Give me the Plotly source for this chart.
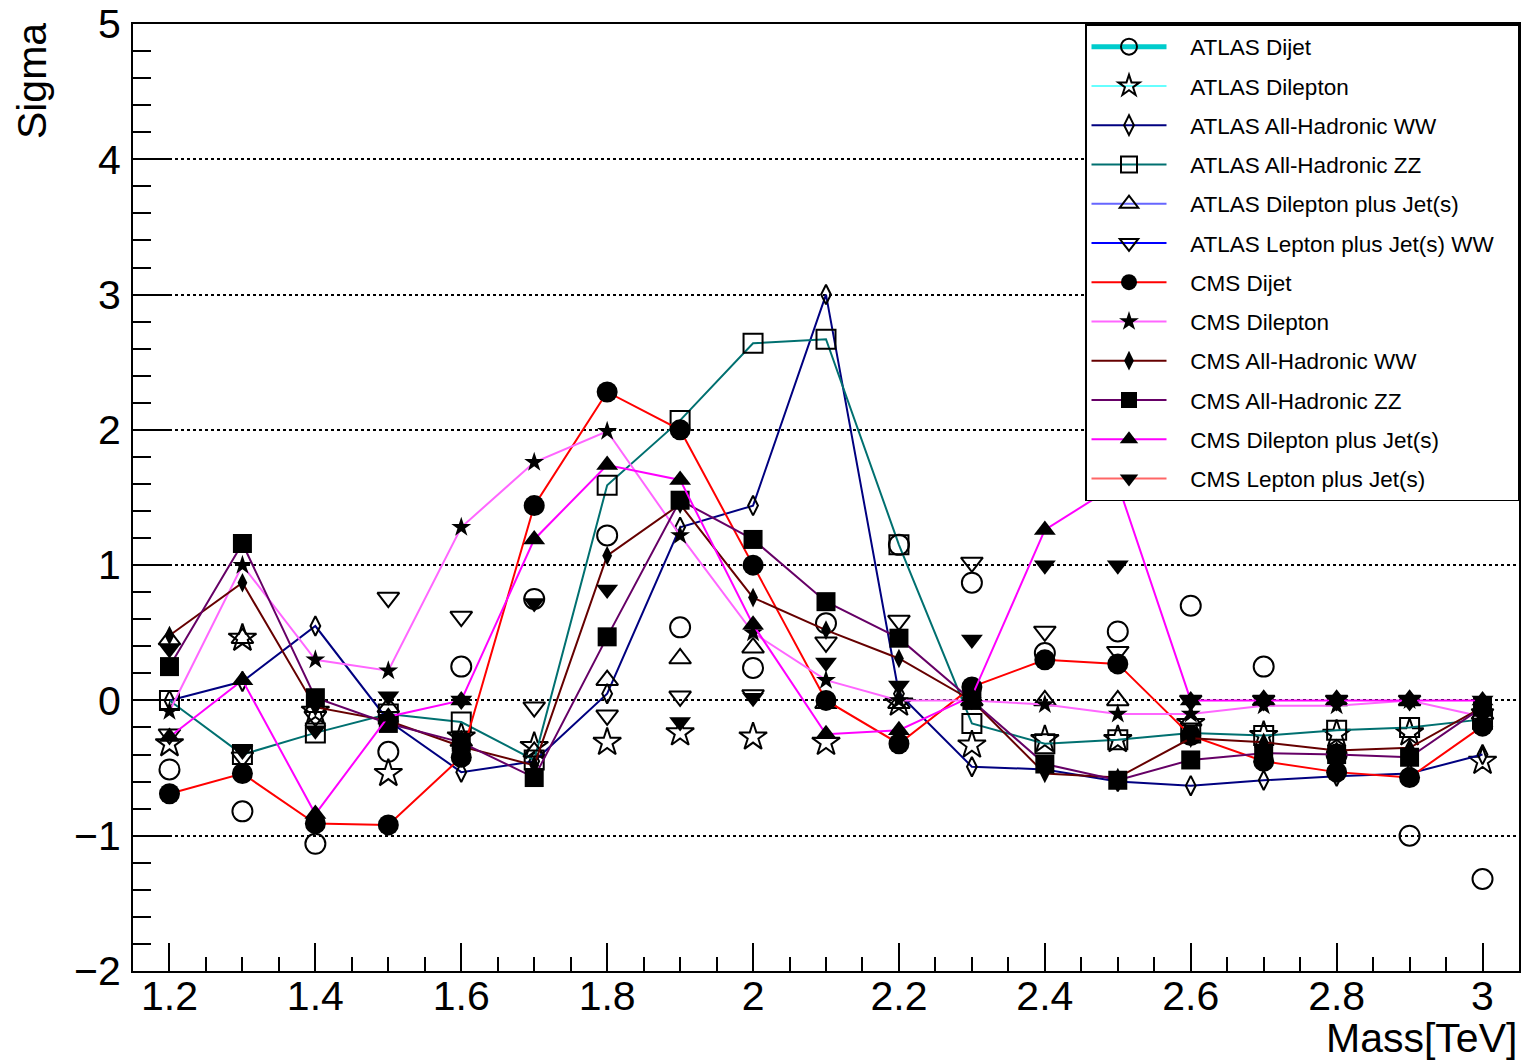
import plotly.graph_objects as go

mass = [1.2, 1.3, 1.4, 1.5, 1.6, 1.7, 1.8, 1.9, 2.0, 2.1, 2.2, 2.3, 2.4, 2.5, 2.6, 2.7, 2.8, 2.9, 3.0]

atlas_dijet = [-0.51, -0.82, -1.06, -0.38, 0.25, 0.75, 1.22, 0.54, 0.24, 0.57, 1.15, 0.87, 0.35, 0.51, 0.70, 0.25, -0.40, -1.00, -1.32]
atlas_dilepton = [-0.32, 0.46, -0.08, -0.54, -0.27, -0.34, -0.31, -0.24, -0.27, -0.31, -0.02, -0.33, -0.29, -0.29, -0.17, -0.26, -0.25, -0.24, -0.45]
atlas_allhad_ww = [0.00, 0.14, 0.55, -0.15, -0.53, -0.45, 0.05, 1.28, 1.44, 3.00, 0.05, -0.49, -0.51, -0.60, -0.63, -0.59, -0.56, -0.54, -0.40]
atlas_allhad_zz = [0.00, -0.40, -0.24, -0.10, -0.16, -0.44, 1.59, 2.07, 2.64, 2.67, 1.15, -0.17, -0.32, -0.29, -0.24, -0.26, -0.22, -0.20, -0.14]
atlas_dilep_jets = [0.45, 0.46, -0.05, -0.05, -0.30, -0.38, 0.15, 0.31, 0.39, -0.02, -0.02, 0.00, 0.00, 0.00, -0.15, 0.00, 0.00, 0.00, -0.10]
atlas_lep_jets_ww = [-0.25, -0.42, -0.12, 0.76, 0.62, -0.05, -0.11, 0.03, 0.04, 0.43, 0.59, 1.02, 0.51, 0.36, 0.00, 0.00, 0.00, 0.00, -0.10]
cms_dijet = [-0.69, -0.54, -0.91, -0.92, -0.42, 1.44, 2.28, 2.00, 1.00, 0.00, -0.32, 0.10, 0.30, 0.27, -0.26, -0.45, -0.53, -0.57, -0.19]
cms_dilepton = [-0.08, 1.00, 0.30, 0.22, 1.28, 1.76, 1.99, 1.22, 0.50, 0.15, 0.00, 0.00, -0.03, -0.10, -0.10, -0.04, -0.04, 0.00, -0.12]
cms_allhad_ww = [0.48, 0.87, -0.05, -0.15, -0.34, -0.48, 1.07, 1.45, 0.76, 0.52, 0.31, 0.00, -0.54, -0.57, -0.28, -0.31, -0.37, -0.35, -0.05]
cms_allhad_zz = [0.25, 1.16, 0.02, -0.17, -0.31, -0.57, 0.47, 1.48, 1.19, 0.73, 0.46, 0.00, -0.47, -0.59, -0.44, -0.39, -0.40, -0.42, -0.05]
cms_dilep_jets = [-0.27, 0.15, -0.84, -0.12, 0.00, 1.19, 1.74, 1.63, 0.56, -0.25, -0.22, 0.03, 1.26, 1.60, 0.00, 0.00, 0.00, 0.00, 0.00]
cms_lep_jets = [0.38, -0.37, -0.22, 0.03, 0.00, 0.72, 0.82, -0.16, 0.02, 0.28, 0.11, 0.45, 1.00, 1.00, 0.00, 0.00, 0.00, 0.00, 0.00]

# name, values, line color, legend line width, symbol, size, draw line in plot
series = [
    ("ATLAS Dijet", atlas_dijet, "#00cccc", 5, "circle-open", 20, False),
    ("ATLAS Dilepton", atlas_dilepton, "#66ffff", 2, "star-open", 21, False),
    ("ATLAS All-Hadronic WW", atlas_allhad_ww, "#000080", 2, "diamond-tall-open", 14, True),
    ("ATLAS All-Hadronic ZZ", atlas_allhad_zz, "#007070", 2, "square-open", 19, True),
    ("ATLAS Dilepton plus Jet(s)", atlas_dilep_jets, "#6666ff", 2, "triangle-up-open", 19, False),
    ("ATLAS Lepton plus Jet(s) WW", atlas_lep_jets_ww, "#0000ff", 2, "triangle-down-open", 19, False),
    ("CMS Dijet", cms_dijet, "#ff0000", 2, "circle", 21, True),
    ("CMS Dilepton", cms_dilepton, "#ff66ff", 2, "star", 15, True),
    ("CMS All-Hadronic WW", cms_allhad_ww, "#660000", 2, "diamond-tall", 14, True),
    ("CMS All-Hadronic ZZ", cms_allhad_zz, "#660066", 2, "square", 19, True),
    ("CMS Dilepton plus Jet(s)", cms_dilep_jets, "#ff00ff", 2, "triangle-up", 19, True),
    ("CMS Lepton plus Jet(s)", cms_lep_jets, "#ff6666", 2, "triangle-down", 19, False),
]

NB = "\u00a0"

fig = go.Figure()
for name, vals, col, lw, sym, sz, drawline in series:
    is_open = sym.endswith("-open")
    marker = dict(symbol=sym, size=sz, color="black",
                  line=dict(color="black", width=2 if is_open else 0))
    fig.add_trace(go.Scatter(
        x=mass, y=vals, mode="lines+markers" if drawline else "markers",
        line=dict(color=col, width=2), marker=marker, name=name,
        showlegend=False, cliponaxis=False))

for i, (name, vals, col, lw, sym, sz, drawline) in enumerate(series):
    is_open = sym.endswith("-open")
    marker = dict(symbol=sym, size=sz, color="black",
                  line=dict(color="black", width=2 if is_open else 0))
    fig.add_trace(go.Scatter(
        x=[None], y=[None], mode="lines+markers",
        name=NB * 3 + name + NB * 3,
        line=dict(color=col, width=lw), marker=marker,
        legendgroup="g%d" % i, showlegend=True))

font = "Liberation Sans, Arial, sans-serif"
fig.update_layout(
    width=1525, height=1060,
    margin=dict(l=133, r=6, t=24, b=89),
    paper_bgcolor="white", plot_bgcolor="white",
    font=dict(family=font, color="black"),
    showlegend=True,
    legend=dict(x=1, xanchor="right", y=1, yanchor="top",
                bgcolor="white", bordercolor="black", borderwidth=1.5,
                font=dict(size=22.5, family=font), itemwidth=75,
                traceorder="grouped", tracegroupgap=7, itemclick=False),
    xaxis=dict(range=[1.15, 3.05], tick0=1.2, dtick=0.2, ticks="inside",
               ticklen=28, tickwidth=1.5, tickcolor="black",
               showline=True, linecolor="black", linewidth=2, mirror=True,
               showgrid=False, zeroline=False, ticklabelstandoff=-12,
               automargin=False,
               tickfont=dict(size=41, family=font),
               minor=dict(ticks="inside", dtick=0.05, tick0=1.2, ticklen=14,
                          tickwidth=1.5, tickcolor="black", showgrid=False)),
    yaxis=dict(range=[-2, 5], dtick=1, ticks="inside",
               ticklen=37, tickwidth=1.5, tickcolor="black",
               showline=True, linecolor="black", linewidth=2, mirror=True,
               showgrid=True, gridcolor="black", gridwidth=1.5, griddash="dot",
               zeroline=False, ticklabelstandoff=2, automargin=False,
               tickfont=dict(size=41, family=font),
               tickvals=[-2, -1, 0, 1, 2, 3, 4, 5],
               ticktext=["\u22122", "\u22121", "0", "1", "2", "3", "4", "5"],
               minor=dict(ticks="inside", dtick=0.2, ticklen=18,
                          tickwidth=1.5, tickcolor="black", showgrid=False)),
    annotations=[
        dict(text="Sigma", xref="paper", yref="paper", x=-0.0729, y=1.003,
             xanchor="center", yanchor="top", textangle=-90, showarrow=False,
             font=dict(size=41, family=font)),
        dict(text="Mass[TeV]", xref="paper", yref="paper", x=1.0, y=-0.071,
             xanchor="right", yanchor="middle", showarrow=False,
             font=dict(size=41, family=font)),
    ],
)

fig.write_html("out.html", config={"displayModeBar": False},
               post_script="document.body.style.margin='0px';document.body.style.overflow='hidden';")
